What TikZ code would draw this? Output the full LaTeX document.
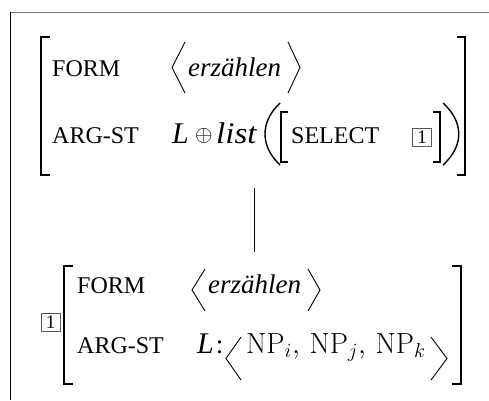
\documentclass[tikz,border=0pt]{standalone}
\usepackage[no-math]{fontspec}
\setmainfont{Liberation Serif}
\usetikzlibrary{calc}
\newcommand\avmmain{\fontsize{27}{32}\selectfont}
\newcommand\avmbig{\fontsize{30}{34}\selectfont}
\newcommand\avmfeat{\fontsize{24}{28}\selectfont}
\begin{document}
\begin{tikzpicture}[x=1pt,y=-1pt,
  sqb/.style={line width=2.2pt},
  thinsq/.style={line width=1.3pt},
  ang/.style={line width=0.9pt, line join=miter},
  paren/.style={line width=1.4pt},
  feat/.style={font=\avmfeat, anchor=base west, inner sep=0pt},
  val/.style={font=\avmmain, anchor=base west, inner sep=0pt},
  bigval/.style={font=\avmbig, anchor=base west, inner sep=0pt},
  tag/.style={draw=black!65, line width=0.7pt, inner sep=0pt, font=\fontsize{19}{19}\selectfont, minimum width=19pt, minimum height=18pt}]
\useasboundingbox (0,0) rectangle (489,400);
% frame
\draw[black!55, line width=1pt] (10,12) -- (489,12);
\draw[line width=1pt] (10,12) -- (10,400);
% top AVM
\draw[sqb] (50,37) -- (41,37) -- (41,175) -- (50,175);
\draw[sqb] (457,37) -- (465,37) -- (465,175) -- (457,175);
\node[feat] (f1) at (52,76) {FORM};
\draw[ang] (185,42) -- (172,67.5) -- (185,93);
\node[val] (v1) at (188,76) {\itshape erzählen};
\draw[ang] (288,42) -- (300,67.5) -- (288,93);
\node[feat] (a1) at (52,143) {ARG-ST};
\node[bigval] (l1) at (172,143) {\itshape L};
\node[font=\fontsize{22}{26}\selectfont, anchor=base west, inner sep=0pt] (op) at (195,141) {\scalebox{1.08}{$\oplus$}};
\node[bigval] (li) at (216,143) {\scalebox{1.1}[1]{\itshape list}};
\draw[paren] (280,103) .. controls (260,122) and (260,146) .. (280,165);
\draw[thinsq] (288,112) -- (281,112) -- (281,162) -- (288,162);
\node[feat] (sel) at (291,143) {SELECT};
\node[tag] (t1) at (422,137) {1};
\draw[thinsq] (433,112) -- (440,112) -- (440,162) -- (433,162);
\draw[paren] (443,103) .. controls (464,122) and (464,146) .. (443,165);
% connector
\coordinate (ctop) at (254,188);
\coordinate (cbot) at (254,252);
\draw[line width=1pt] (ctop) -- (cbot);
% bottom AVM
\node[tag] (t2) at (50.5,322) {1};
\draw[sqb] (73,266) -- (64,266) -- (64,384) -- (73,384);
\draw[sqb] (452,266) -- (461,266) -- (461,384) -- (452,384);
\node[feat] (f2) at (77,293) {FORM};
\draw[ang] (205,269) -- (192,290) -- (205,311);
\node[val] (v2) at (208,293) {\itshape erzählen};
\draw[ang] (308,269) -- (320,290) -- (308,311);
\node[feat] (a2) at (77,353) {ARG-ST};
\node[bigval] (l2) at (197,353) {\itshape L\kern2pt{\upshape\avmmain:}};
\draw[ang] (241,337) -- (226,358.5) -- (241,380);
\node[val] (np) at (246,353) {\scalebox{1.17}{$\mathrm{NP}_i,\,\mathrm{NP}_j,\,\mathrm{NP}_k$}};
\draw[ang] (431,337) -- (447,358.5) -- (431,380);
\end{tikzpicture}
\end{document}
